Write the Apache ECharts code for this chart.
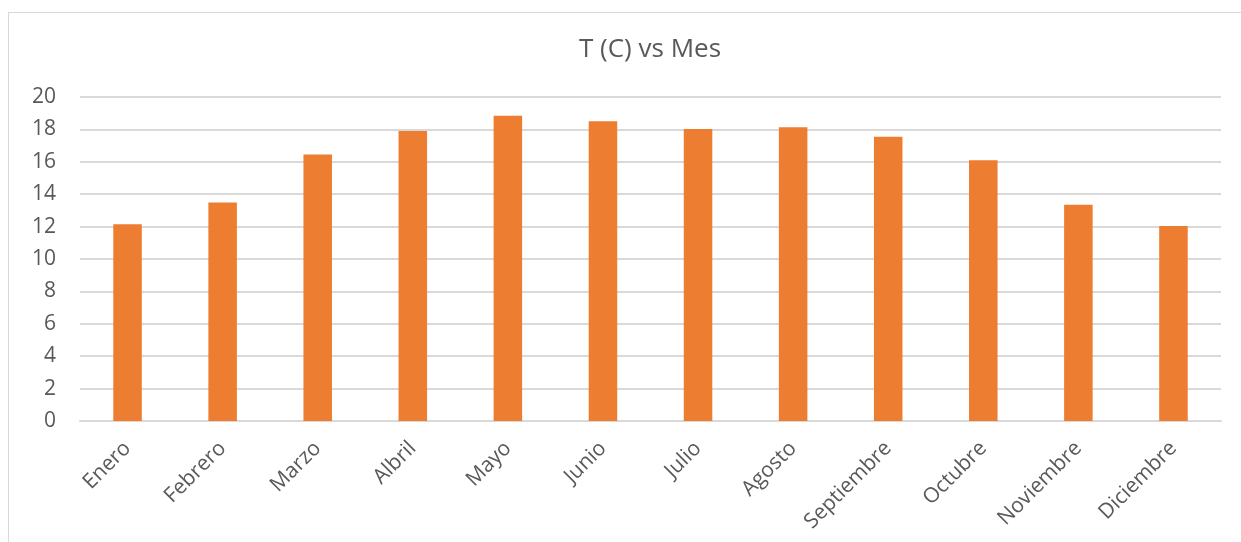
<!DOCTYPE html>
<html>
<head>
<meta charset="utf-8">
<script src="https://cdn.jsdelivr.net/npm/echarts@6/dist/echarts.min.js"></script>
<style>
  html, body { margin: 0; padding: 0; background: #fff; }
  #frame { position: absolute; left: 8px; top: 12px; width: 1240px; height: 540px; border: 1px solid #d9d9d9; box-sizing: border-box; }
  #chart { position: absolute; left: 0; top: 0; width: 1241px; height: 542px; }
</style>
</head>
<body>
<div id="frame"></div>
<div id="chart"></div>
<script>
// meses y temperatura media (C)
var months = ['Enero', 'Febrero', 'Marzo', 'Albril', 'Mayo', 'Junio', 'Julio', 'Agosto', 'Septiembre', 'Octubre', 'Noviembre', 'Diciembre'];
var temps = [12.15, 13.48, 16.45, 17.9, 18.85, 18.5, 18.03, 18.13, 17.54, 16.1, 13.35, 12.04];
var yTicks = [0, 2, 4, 6, 8, 10, 12, 14, 16, 18, 20];

var textColor = '#595959';
var gridColor = '#d9d9d9';

var myChart = echarts.init(document.getElementById('chart'), null, { renderer: 'canvas' });

myChart.setOption({
  animation: false,
  title: {
    text: 'T (C) vs Mes',
    left: 645,
    textAlign: 'center',
    top: 32,
    textStyle: {
      fontFamily: 'Open Sans',
      fontWeight: 'normal',
      fontSize: 26,
      color: textColor
    }
  },
  grid: {
    left: 80,
    right: 20,
    top: 97,
    bottom: 121
  },
  xAxis: {
    type: 'category',
    data: months,
    axisTick: { show: false },
    axisLine: { lineStyle: { color: gridColor, width: 2 } },
    axisLabel: {
      rotate: 45,
      margin: 24,
      interval: 0,
      fontFamily: 'Open Sans',
      fontSize: 21,
      color: textColor
    }
  },
  yAxis: {
    type: 'value',
    min: yTicks[0],
    max: yTicks[yTicks.length - 1],
    interval: 2,
    axisLine: { show: false },
    axisTick: { show: false },
    splitLine: { lineStyle: { color: gridColor, width: 2 } },
    axisLabel: {
      margin: 24,
      fontFamily: 'Open Sans',
      fontSize: 21,
      color: textColor
    }
  },
  series: [{
    type: 'bar',
    data: temps,
    barWidth: '30%',
    itemStyle: { color: '#ed7d31' }
  }]
});
</script>
</body>
</html>
